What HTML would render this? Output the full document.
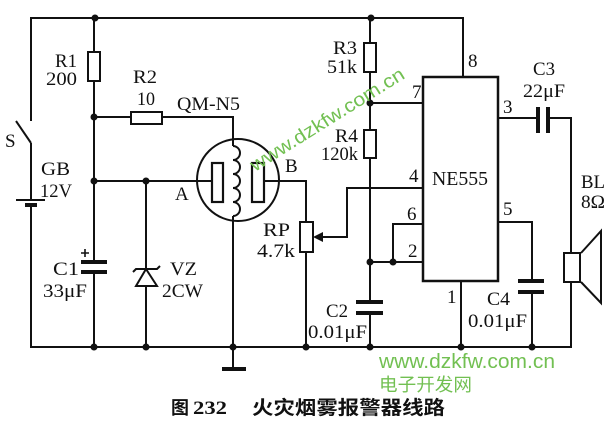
<!DOCTYPE html>
<html><head><meta charset="utf-8"><style>
html,body{margin:0;padding:0;background:#fff;}
svg{display:block;}
text{font-family:"Liberation Serif","Noto Serif CJK SC",serif;font-size:19px;fill:#111;}
.g{font-family:"Liberation Sans","Noto Sans CJK SC",sans-serif;fill:#72c052;}
</style></head><body>
<svg width="616" height="425" viewBox="0 0 616 425" xmlns="http://www.w3.org/2000/svg">
<rect width="616" height="425" fill="#fff"/>
<g stroke="#111" stroke-width="2" fill="none">
<!-- top wire and switch -->
<path d="M31,121 V18 H463 V77"/>
<path d="M31,143 L16,121"/>
<path d="M31,143 V200"/>
<path d="M16,200 H45"/>
<path d="M31,207 V347 H571 V282"/>
<!-- R1 column -->
<path d="M94,18 V52"/>
<rect x="88" y="52" width="12" height="29"/>
<path d="M94,81 V262"/>
<path d="M94,273 V347"/>
<!-- R2 -->
<path d="M94,117 H131"/>
<rect x="131" y="112" width="31" height="12"/>
<path d="M162,117 H233 V146"/>
<!-- heater coil -->
<path d="M233,146 a7,7 0 0 1 0,14 a7,7 0 0 1 0,14 a7,7 0 0 1 0,14 a7,7 0 0 1 0,14 a7,7 0 0 1 0,14"/>
<path d="M233,216 V369"/>
<!-- A wire -->
<path d="M94,181 H212"/>
<!-- zener column -->
<path d="M146,181 V347"/>
<polygon points="146,269 136,286 157,286" fill="#fff"/>
<path d="M133,272 L136,269 H157 L160,266"/>
<!-- sensor -->
<circle cx="238" cy="180" r="41"/>
<rect x="212" y="163" width="11" height="39" stroke-width="2.2"/>
<rect x="252" y="163" width="12" height="39" stroke-width="2.2"/>
<path d="M264,181 H306 V222"/>
<rect x="300" y="222" width="13" height="30"/>
<path d="M306,252 V347"/>
<path d="M322,237 H347 V188 H423"/>
<!-- R3/R4 column -->
<path d="M370,18 V43"/>
<rect x="364" y="43" width="12" height="29"/>
<path d="M370,72 V130"/>
<rect x="364" y="130" width="12" height="28"/>
<path d="M370,158 V302"/>
<path d="M370,313 V347"/>
<path d="M370,103 H423"/>
<path d="M393,262 V224 H423"/>
<path d="M370,262 H423"/>
<!-- IC -->
<rect x="423" y="77" width="75" height="204" stroke-width="2.5"/>
<!-- pin3 / C3 / speaker -->
<path d="M498,118 H538"/>
<path d="M548,118 H571 V253"/>
<rect x="564" y="253" width="16" height="29"/>
<path d="M581,253 L601,231 V303 L581,282"/>
<!-- pin5 / C4 -->
<path d="M498,222 H532 V281"/>
<path d="M532,293 V347"/>
<!-- pin1 -->
<path d="M461,281 V347"/>
</g>
<g fill="#111">
<!-- battery short plate -->
<rect x="25" y="203" width="12" height="4"/>
<!-- C1 plates -->
<rect x="81" y="260" width="26" height="4"/>
<rect x="81" y="270" width="26" height="4"/>
<!-- C2 plates -->
<rect x="356" y="300" width="27" height="4"/>
<rect x="356" y="311" width="27" height="4"/>
<!-- C4 plates -->
<rect x="518" y="279" width="26" height="4"/>
<rect x="518" y="290" width="26" height="4"/>
<!-- C3 plates -->
<rect x="536" y="107" width="4" height="26"/>
<rect x="546" y="107" width="4" height="26"/>
<!-- ground bar -->
<rect x="222" y="367" width="24" height="4"/>
<!-- RP arrow -->
<polygon points="313,237 323,232 323,242"/>
<!-- junctions -->
<circle cx="95" cy="18" r="3.5"/>
<circle cx="371" cy="18" r="3.5"/>
<circle cx="94" cy="117" r="3.5"/>
<circle cx="94" cy="181" r="3.5"/>
<circle cx="146" cy="181" r="3.5"/>
<circle cx="370" cy="103" r="3.5"/>
<circle cx="370" cy="262" r="3.5"/>
<circle cx="393" cy="262" r="3.5"/>
<circle cx="94" cy="347" r="3.5"/>
<circle cx="146" cy="347" r="3.5"/>
<circle cx="233" cy="347" r="3.5"/>
<circle cx="306" cy="347" r="3.5"/>
<circle cx="370" cy="347" r="3.5"/>
<circle cx="461" cy="347" r="3.5"/>
<circle cx="532" cy="347" r="3.5"/>
</g>
<!-- plus sign for C1 -->
<path d="M81,253 H89 M85,249 V257" stroke="#111" stroke-width="1.6"/>

<!-- labels -->
<text x="5" y="147">S</text>
<text x="55" y="67" textLength="22" lengthAdjust="spacingAndGlyphs">R1</text>
<text x="46" y="85" textLength="31" lengthAdjust="spacingAndGlyphs">200</text>
<text x="133" y="83" textLength="24" lengthAdjust="spacingAndGlyphs">R2</text>
<text x="137" y="105" textLength="18" lengthAdjust="spacingAndGlyphs">10</text>
<text x="177" y="110" textLength="63" lengthAdjust="spacingAndGlyphs">QM-N5</text>
<text x="41" y="175" textLength="29" lengthAdjust="spacingAndGlyphs">GB</text>
<text x="40" y="197" textLength="32" lengthAdjust="spacingAndGlyphs">12V</text>
<text x="175" y="200">A</text>
<text x="285" y="172">B</text>
<text x="53" y="275" textLength="26" lengthAdjust="spacingAndGlyphs">C1</text>
<text x="43" y="297" textLength="44" lengthAdjust="spacingAndGlyphs">33μF</text>
<text x="170" y="275" textLength="27" lengthAdjust="spacingAndGlyphs">VZ</text>
<text x="162" y="297" textLength="41" lengthAdjust="spacingAndGlyphs">2CW</text>
<text x="263" y="236" textLength="27" lengthAdjust="spacingAndGlyphs">RP</text>
<text x="257" y="257" textLength="38" lengthAdjust="spacingAndGlyphs">4.7k</text>
<text x="333" y="54" textLength="24" lengthAdjust="spacingAndGlyphs">R3</text>
<text x="327" y="73" textLength="30" lengthAdjust="spacingAndGlyphs">51k</text>
<text x="335" y="142" textLength="23" lengthAdjust="spacingAndGlyphs">R4</text>
<text x="321" y="160" textLength="37" lengthAdjust="spacingAndGlyphs">120k</text>
<text x="412" y="98">7</text>
<text x="468" y="67">8</text>
<text x="409" y="182">4</text>
<text x="432" y="185" textLength="56" lengthAdjust="spacingAndGlyphs" style="font-size:20px">NE555</text>
<text x="407" y="220">6</text>
<text x="408" y="257">2</text>
<text x="503" y="113">3</text>
<text x="503" y="215">5</text>
<text x="447" y="303">1</text>
<text x="326" y="317" textLength="22" lengthAdjust="spacingAndGlyphs">C2</text>
<text x="308" y="338" textLength="59" lengthAdjust="spacingAndGlyphs">0.01μF</text>
<text x="487" y="305" textLength="23" lengthAdjust="spacingAndGlyphs">C4</text>
<text x="468" y="327" textLength="59" lengthAdjust="spacingAndGlyphs">0.01μF</text>
<text x="533" y="75" textLength="22" lengthAdjust="spacingAndGlyphs">C3</text>
<text x="523" y="97" textLength="42" lengthAdjust="spacingAndGlyphs">22μF</text>
<text x="581" y="188" textLength="24" lengthAdjust="spacingAndGlyphs">BL</text>
<text x="581" y="208" textLength="24" lengthAdjust="spacingAndGlyphs">8Ω</text>

<!-- watermarks -->
<text class="g" x="0" y="0" transform="translate(255,172) rotate(-32)" textLength="178" lengthAdjust="spacingAndGlyphs" style="font-size:19px">www.dzkfw.com.cn</text>
<text class="g" x="379" y="368" textLength="176" lengthAdjust="spacingAndGlyphs" style="font-size:20px">www.dzkfw.com.cn</text>
<text class="g" x="379" y="391" textLength="93" lengthAdjust="spacingAndGlyphs" style="font-size:18px">电子开发网</text>

<!-- caption -->
<text x="171" y="414" style="font-family:'Liberation Serif','Noto Sans CJK SC',sans-serif;font-weight:bold;font-size:18px">图</text>
<text x="193" y="414" textLength="34" lengthAdjust="spacingAndGlyphs" style="font-weight:bold;font-size:19px">232</text>
<text x="252" y="414" textLength="193" lengthAdjust="spacingAndGlyphs" style="font-family:'Liberation Sans','Noto Sans CJK SC',sans-serif;font-weight:bold;font-size:19px">火灾烟雾报警器线路</text>
</svg>
</body></html>
